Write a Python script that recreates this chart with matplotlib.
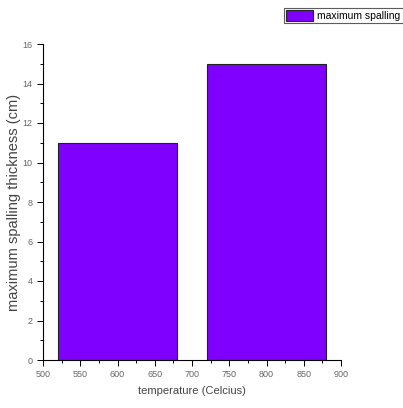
import matplotlib.pyplot as plt
from matplotlib.ticker import MultipleLocator

plt.rcParams['font.family'] = ['Liberation Sans', 'DejaVu Sans']

temperatures = [600, 800]
thickness = [11, 15]
bar_width = 160
series_label = 'maximum spalling'

fig = plt.figure(figsize=(4.03, 4.08), dpi=100)
ax = fig.add_axes([43 / 403, 1 - 360 / 408, (341 - 43) / 403, (360 - 44) / 408])

bars = ax.bar(temperatures, thickness, width=bar_width, color='#7F00FF',
              edgecolor='#222222', linewidth=0.8, label=series_label)

ax.set_xlim(500, 900)
ax.set_ylim(0, 16)
ax.xaxis.set_major_locator(MultipleLocator(50))
ax.xaxis.set_minor_locator(MultipleLocator(25))
ax.yaxis.set_major_locator(MultipleLocator(2))
ax.yaxis.set_minor_locator(MultipleLocator(1))
ax.tick_params(which='both', direction='out', width=0.7, labelsize=6.5,
               labelcolor='#666666')
ax.tick_params(which='major', length=4)
ax.tick_params(which='minor', length=2)
for s in ['top', 'right']:
    ax.spines[s].set_visible(False)
ax.spines['left'].set_linewidth(0.8)
ax.spines['bottom'].set_linewidth(0.8)

ax.set_xlabel('temperature (Celcius)', fontsize=8, color='#444444', labelpad=5)
ax.set_ylabel('maximum spalling thickness (cm)', fontsize=10.5, color='#444444', labelpad=1)

leg = fig.legend(handles=[bars], labels=[series_label], loc='upper left',
                 bbox_to_anchor=(284 / 403, 1 - 8 / 408), fontsize=7.5,
                 frameon=True, fancybox=False, edgecolor='#333333',
                 handlelength=2.6, handleheight=1.2, borderpad=0.2,
                 handletextpad=0.4, borderaxespad=0)
leg.get_frame().set_linewidth(0.8)

fig.savefig('out.png', dpi=100)
